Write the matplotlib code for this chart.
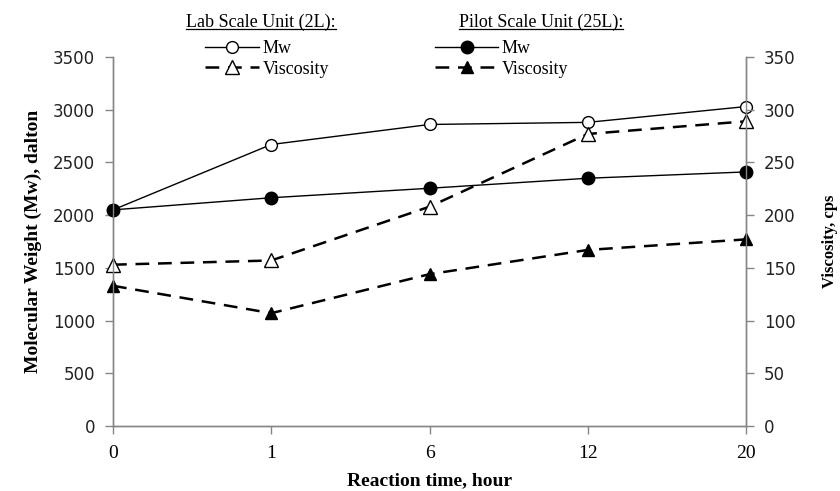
import matplotlib
matplotlib.use("Agg")
from matplotlib import pyplot as plt
from matplotlib.lines import Line2D

# reaction time categories (hours)
times = ["0", "1", "6", "12", "20"]

# molecular weight, dalton (left axis)
lab_mw = [2050, 2670, 2860, 2880, 3030]
pilot_mw = [2050, 2165, 2255, 2350, 2410]

# viscosity, cps (right axis)
lab_visc = [153, 157, 208, 277, 289]
pilot_visc = [133, 107, 144, 167, 177]

serif = "Liberation Serif"
grey = "#868686"

fig = plt.figure(figsize=(8.4, 4.91), dpi=100)
ax = fig.add_axes([113/840, 1-426/491, (746-113)/840, (426-57)/491])
ax2 = ax.twinx()

l_lab_mw, = ax.plot(times, lab_mw, "-", color="k", lw=1, marker="o",
                    mfc="white", mec="k", mew=1, ms=8.5, clip_on=False, zorder=3)
l_pil_mw, = ax.plot(times, pilot_mw, "-", color="k", lw=1, marker="o",
                    mfc="k", mec="k", ms=9, clip_on=False, zorder=3)
l_lab_v, = ax2.plot(times, lab_visc, color="k", lw=1.8, ls=(0, (5.5, 3.5)),
                    marker="^", mfc="white", mec="k", mew=1, ms=10, clip_on=False)
l_pil_v, = ax2.plot(times, pilot_visc, color="k", lw=1.8, ls=(0, (5.5, 3.5)),
                    marker="^", mfc="k", mec="k", ms=9, clip_on=False)

ax.set_xlim(0, len(times) - 1)
ax.set_ylim(0, 3500)
ax.set_yticks(range(0, 3501, 500))
ax2.set_ylim(0, 350)
ax2.set_yticks(range(0, 351, 50))

for a in (ax, ax2):
    for s in a.spines.values():
        s.set_color(grey)
        s.set_linewidth(1)
    a.spines["top"].set_visible(False)
    a.tick_params(axis="both", color=grey, length=6, width=1, direction="out")
    a.tick_params(axis="y", labelsize=12, labelcolor="#222222", pad=7)

ax.tick_params(axis="x", pad=8)
for lbl in ax.get_xticklabels():
    lbl.set_fontfamily(serif)
    lbl.set_fontsize(14)

ax.set_xlabel("Reaction time, hour", fontfamily=serif, fontweight="bold",
              fontsize=14, labelpad=7)
ax.set_ylabel("Molecular Weight (Mw), dalton", fontfamily=serif,
              fontweight="bold", fontsize=14, labelpad=8)
ax2.set_ylabel("Viscosity, cps", fontfamily=serif, fontweight="bold",
               fontsize=12, labelpad=19)

# legend groups with underlined titles
t1 = fig.text(261/840, 1-22/491, "Lab Scale Unit (2L):", fontfamily=serif,
              fontsize=13, ha="center", va="center")
t2 = fig.text(541/840, 1-22/491, "Pilot Scale Unit (25L):", fontfamily=serif,
              fontsize=13, ha="center", va="center")

fig.legend(handles=[l_lab_mw, l_lab_v], labels=["Mw", "Viscosity"],
           loc="upper left", bbox_to_anchor=(205/840, 1-40/491), frameon=False,
           prop={"family": serif, "size": 13}, handlelength=3.0,
           handletextpad=0.2, labelspacing=0.2, borderpad=0, borderaxespad=0)
fig.legend(handles=[l_pil_mw, l_pil_v], labels=["Mw", "Viscosity"],
           loc="upper left", bbox_to_anchor=(435/840, 1-40/491), frameon=False,
           prop={"family": serif, "size": 13}, handlelength=3.5,
           handletextpad=0.2, labelspacing=0.2, borderpad=0, borderaxespad=0)

fig.canvas.draw()
r = fig.canvas.get_renderer()
for t in (t1, t2):
    bb = t.get_window_extent(r).transformed(fig.transFigure.inverted())
    fig.add_artist(Line2D([bb.x0, bb.x1], [bb.y0 + 0.004] * 2,
                          transform=fig.transFigure, color="k", lw=0.9))

fig.savefig("out.png", dpi=100)
